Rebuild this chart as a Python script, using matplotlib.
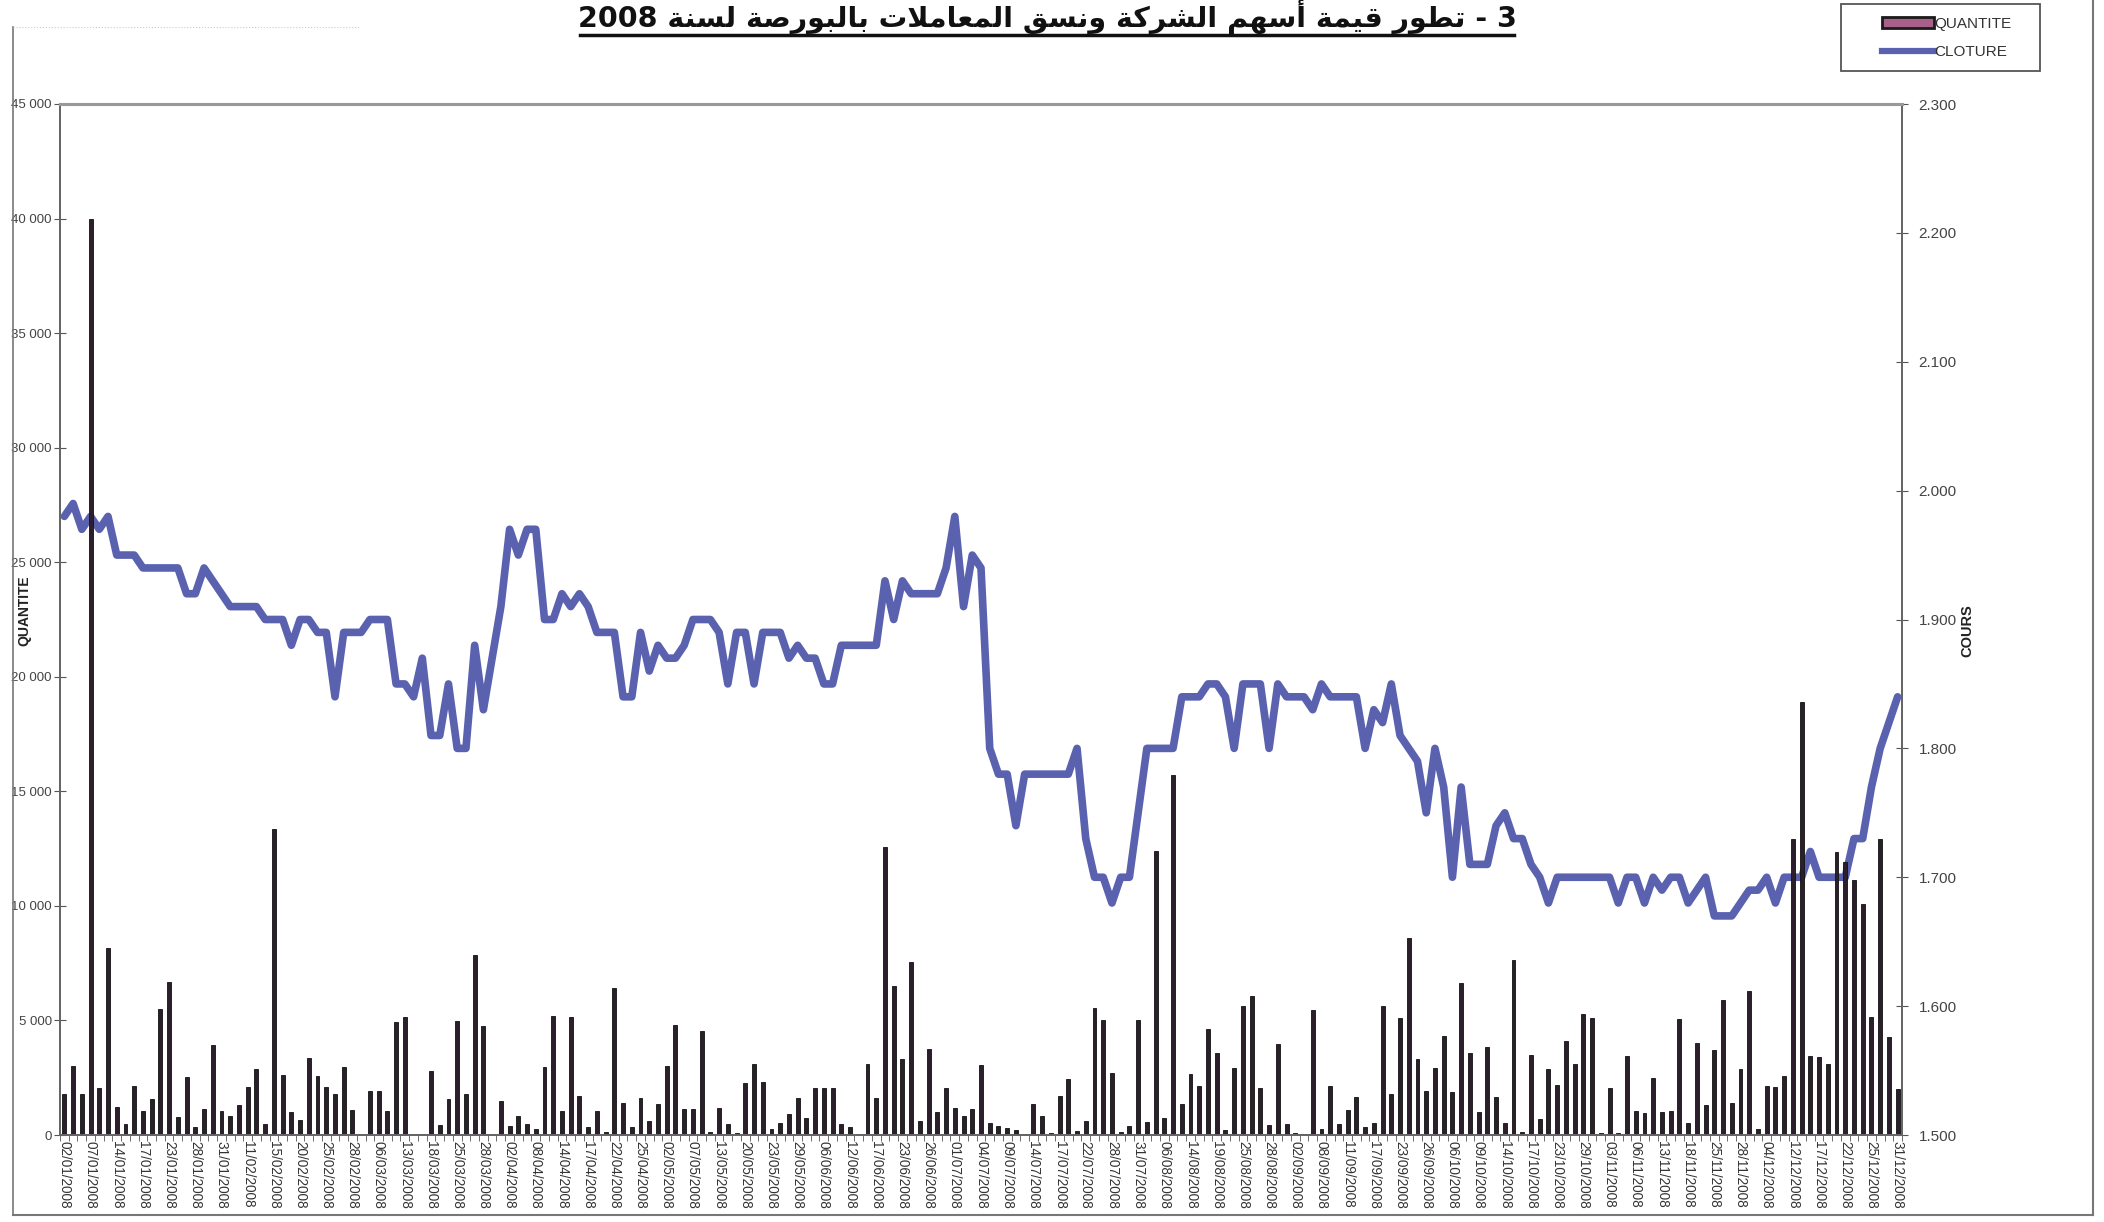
import matplotlib.pyplot as plt
from matplotlib.lines import Line2D
from matplotlib.patches import Patch, Rectangle
import numpy as np

plt.rcParams['font.family'] = ['Liberation Sans', 'DejaVu Sans']

title_ar = '3 - تطور قيمة أسهم الشركة ونسق المعاملات بالبورصة لسنة 2008'

date_labels = ['02/01/2008', '07/01/2008', '14/01/2008', '17/01/2008', '23/01/2008', '28/01/2008',
               '31/01/2008', '11/02/2008', '15/02/2008', '20/02/2008', '25/02/2008', '28/02/2008',
               '06/03/2008', '13/03/2008', '18/03/2008', '25/03/2008', '28/03/2008', '02/04/2008',
               '08/04/2008', '14/04/2008', '17/04/2008', '22/04/2008', '25/04/2008', '02/05/2008',
               '07/05/2008', '13/05/2008', '20/05/2008', '23/05/2008', '29/05/2008', '06/06/2008',
               '12/06/2008', '17/06/2008', '23/06/2008', '26/06/2008', '01/07/2008', '04/07/2008',
               '09/07/2008', '14/07/2008', '17/07/2008', '22/07/2008', '28/07/2008', '31/07/2008',
               '06/08/2008', '14/08/2008', '19/08/2008', '25/08/2008', '28/08/2008', '02/09/2008',
               '08/09/2008', '11/09/2008', '17/09/2008', '23/09/2008', '26/09/2008', '06/10/2008',
               '09/10/2008', '14/10/2008', '17/10/2008', '23/10/2008', '29/10/2008', '03/11/2008',
               '06/11/2008', '13/11/2008', '18/11/2008', '25/11/2008', '28/11/2008', '04/12/2008',
               '12/12/2008', '17/12/2008', '22/12/2008', '25/12/2008', '31/12/2008']

# volume traded per session (QUANTITE)
quantite = [1810, 3020, 1770, 40000, 2050, 8150, 1210, 470, 2150, 1060,
            1550, 5500, 6680, 780, 2520, 340, 1120, 3920, 1030, 840,
            1310, 2090, 2890, 470, 13340, 2610, 990, 650, 3340, 2560,
            2110, 1770, 2950, 1080, 50, 1900, 1920, 1030, 4950, 5150,
            60, 30, 2800, 450, 1570, 4980, 1770, 7840, 4760, 20,
            1490, 410, 840, 470, 280, 2950, 5190, 1050, 5130, 1720,
            350, 1060, 130, 6420, 1400, 340, 1600, 620, 1360, 2990,
            4810, 1140, 1140, 4530, 130, 1180, 470, 90, 2280, 3120,
            2300, 260, 540, 900, 1600, 750, 2050, 2050, 2050, 470,
            340, 60, 3120, 1620, 12560, 6490, 3320, 7560, 600, 3770,
            1010, 2070, 1180, 820, 1140, 3040, 520, 390, 300, 240,
            60, 1340, 820, 90, 1720, 2430, 190, 620, 5540, 5020,
            2720, 110, 390, 5020, 560, 12410, 750, 15710, 1360, 2650,
            2150, 4630, 3560, 240, 2910, 5650, 6050, 2030, 430, 3990,
            500, 90, 60, 5450, 260, 2130, 490, 1080, 1680, 370,
            520, 5650, 1770, 5090, 8580, 3320, 1940, 2910, 4300, 1870,
            6620, 3560, 990, 3830, 1660, 520, 7630, 150, 3470, 690,
            2890, 2180, 4100, 3080, 5280, 5090, 100, 2070, 80, 3430,
            1060, 970, 2500, 1010, 1030, 5060, 520, 4030, 1320, 3690,
            5900, 1400, 2890, 6290, 280, 2150, 2110, 2580, 12900, 18880,
            3430, 3400, 3080, 12370, 11900, 11120, 10100, 5130, 12910, 4270,
            2010]

# closing price (CLOTURE)
cloture = [1.98, 1.99, 1.97, 1.98, 1.97, 1.98, 1.95, 1.95, 1.95, 1.94,
           1.94, 1.94, 1.94, 1.94, 1.92, 1.92, 1.94, 1.93, 1.92, 1.91,
           1.91, 1.91, 1.91, 1.90, 1.90, 1.90, 1.88, 1.90, 1.90, 1.89,
           1.89, 1.84, 1.89, 1.89, 1.89, 1.90, 1.90, 1.90, 1.85, 1.85,
           1.84, 1.87, 1.81, 1.81, 1.85, 1.80, 1.80, 1.88, 1.83, 1.87,
           1.91, 1.97, 1.95, 1.97, 1.97, 1.90, 1.90, 1.92, 1.91, 1.92,
           1.91, 1.89, 1.89, 1.89, 1.84, 1.84, 1.89, 1.86, 1.88, 1.87,
           1.87, 1.88, 1.90, 1.90, 1.90, 1.89, 1.85, 1.89, 1.89, 1.85,
           1.89, 1.89, 1.89, 1.87, 1.88, 1.87, 1.87, 1.85, 1.85, 1.88,
           1.88, 1.88, 1.88, 1.88, 1.93, 1.90, 1.93, 1.92, 1.92, 1.92,
           1.92, 1.94, 1.98, 1.91, 1.95, 1.94, 1.80, 1.78, 1.78, 1.74,
           1.78, 1.78, 1.78, 1.78, 1.78, 1.78, 1.80, 1.73, 1.70, 1.70,
           1.68, 1.70, 1.70, 1.75, 1.80, 1.80, 1.80, 1.80, 1.84, 1.84,
           1.84, 1.85, 1.85, 1.84, 1.80, 1.85, 1.85, 1.85, 1.80, 1.85,
           1.84, 1.84, 1.84, 1.83, 1.85, 1.84, 1.84, 1.84, 1.84, 1.80,
           1.83, 1.82, 1.85, 1.81, 1.80, 1.79, 1.75, 1.80, 1.77, 1.70,
           1.77, 1.71, 1.71, 1.71, 1.74, 1.75, 1.73, 1.73, 1.71, 1.70,
           1.68, 1.70, 1.70, 1.70, 1.70, 1.70, 1.70, 1.70, 1.68, 1.70,
           1.70, 1.68, 1.70, 1.69, 1.70, 1.70, 1.68, 1.69, 1.70, 1.67,
           1.67, 1.67, 1.68, 1.69, 1.69, 1.70, 1.68, 1.70, 1.70, 1.70,
           1.72, 1.70, 1.70, 1.70, 1.70, 1.73, 1.73, 1.77, 1.80, 1.82,
           1.84]

# arabic shaping by hand (matplotlib has no bidi / joining)
FORMS = {'ا': (0xFE8D, 0xFE8E), 'أ': (0xFE83, 0xFE84), 'ة': (0xFE93, 0xFE94),
         'ر': (0xFEAD, 0xFEAE), 'و': (0xFEED, 0xFEEE),
         'ب': (0xFE8F, 0xFE90, 0xFE91, 0xFE92), 'ت': (0xFE95, 0xFE96, 0xFE97, 0xFE98),
         'س': (0xFEB1, 0xFEB2, 0xFEB3, 0xFEB4), 'ش': (0xFEB5, 0xFEB6, 0xFEB7, 0xFEB8),
         'ص': (0xFEB9, 0xFEBA, 0xFEBB, 0xFEBC), 'ط': (0xFEC1, 0xFEC2, 0xFEC3, 0xFEC4),
         'ع': (0xFEC9, 0xFECA, 0xFECB, 0xFECC), 'ق': (0xFED5, 0xFED6, 0xFED7, 0xFED8),
         'ك': (0xFED9, 0xFEDA, 0xFEDB, 0xFEDC), 'ل': (0xFEDD, 0xFEDE, 0xFEDF, 0xFEE0),
         'م': (0xFEE1, 0xFEE2, 0xFEE3, 0xFEE4), 'ن': (0xFEE5, 0xFEE6, 0xFEE7, 0xFEE8),
         'ه': (0xFEE9, 0xFEEA, 0xFEEB, 0xFEEC), 'ي': (0xFEF1, 0xFEF2, 0xFEF3, 0xFEF4)}
LAM_ALEF = {'ا': (0xFEFB, 0xFEFC), 'أ': (0xFEF7, 0xFEF8)}


def shape_word(w):
    out = []
    k = 0
    prev = False
    while k < len(w):
        c = w[k]
        if c == 'ل' and k + 1 < len(w) and w[k + 1] in LAM_ALEF:
            iso, fin = LAM_ALEF[w[k + 1]]
            out.append(chr(fin if prev else iso))
            prev = False
            k += 2
            continue
        f = FORMS[c]
        nxt = k + 1 < len(w) and len(f) == 4
        if prev and nxt:
            g = f[3]
        elif prev:
            g = f[1]
        elif nxt:
            g = f[2]
        else:
            g = f[0]
        out.append(chr(g))
        prev = nxt
        k += 1
    return ''.join(reversed(out))


def rtl(text):
    words = [shape_word(w) if w[0] in FORMS else w for w in text.split(' ')]
    return ' '.join(reversed(words))


W, H = 2104, 1222
fig = plt.figure(figsize=(W / 100, H / 100), dpi=100)
ax = fig.add_axes([60 / W, 87 / H, 1842 / W, 1031 / H])
ax2 = ax.twinx()

x = np.arange(len(quantite))
bar_col = '#2a1f2a'
line_col = '#5a62b0'

ax.bar(x, quantite, width=0.45, color=bar_col, edgecolor='#111111', linewidth=0.6)
ax2.plot(x, cloture, color=line_col, lw=5.5, solid_joinstyle='round', solid_capstyle='round')

# bars sit on top of the line like in the source
ax.set_zorder(ax2.get_zorder() + 1)
ax.patch.set_visible(False)

ax.set_xlim(-0.5, len(x) - 0.5)
ax.set_ylim(0, 45000)
ax2.set_ylim(1.5, 2.3)

yt = np.arange(0, 45001, 5000)
ax.set_yticks(yt)
ax.set_yticklabels(['0' if v == 0 else f'{v // 1000} 000' for v in yt], fontsize=9.5, color='#444444')
yt2 = np.round(np.arange(1.5, 2.301, 0.1), 1)
ax2.set_yticks(yt2)
ax2.set_yticklabels([f'{v:.3f}' for v in yt2], fontsize=11, color='#444444')

ax.set_xticks(x[::3])
ax.set_xticklabels(date_labels, rotation=-90, fontsize=9.8, color='#333333')
ax.set_xticks(np.arange(-0.5, len(x), 1), minor=True)
ax.tick_params(axis='x', which='major', length=0, pad=4)
ax.tick_params(axis='x', which='minor', length=4, color='#555555', direction='out')
ax.tick_params(axis='y', length=8, direction='inout', color='#555555', pad=2)
ax2.tick_params(axis='y', length=8, direction='inout', color='#555555', pad=8)

for a in (ax, ax2):
    for s in a.spines.values():
        s.set_color('#666666')
        s.set_linewidth(1.4)
    a.spines['top'].set_color('#999999')
    a.spines['top'].set_linewidth(2.2)

fig.text(24 / W, 1 - 611 / H, 'QUANTITE', rotation=90, ha='center', va='center',
         fontsize=10, fontweight='bold', color='#222222')
fig.text(1967 / W, 1 - 631 / H, 'COURS', rotation=90, ha='center', va='center',
         fontsize=10.5, fontweight='bold', color='#222222')

# title at the top of the page, underlined
fig.text(1047 / W, 1 - 27 / H, rtl(title_ar), ha='center', va='baseline',
         fontsize=20.5, fontweight='bold', family=['DejaVu Sans'], color='#111111')
fig.add_artist(Line2D([580 / W, 1514 / W], [1 - 35 / H, 1 - 35 / H], color='#111111', lw=2.5))

# outer frame
fc = '#777777'
fig.add_artist(Line2D([13 / W, 13 / W], [1 - 1215 / H, 1 - 27 / H], color=fc, lw=1.2))
fig.add_artist(Line2D([13 / W, 2093 / W], [1 - 1215 / H, 1 - 1215 / H], color=fc, lw=1.5))
fig.add_artist(Line2D([2093 / W, 2093 / W], [1 - 1215 / H, 1.0], color=fc, lw=1.5))
fig.add_artist(Line2D([13 / W, 360 / W], [1 - 27 / H, 1 - 27 / H], color='#cccccc', lw=0.8, ls=':'))

# legend: frame drawn separately, wide side padding like the source
fig.add_artist(Rectangle((1841 / W, 1 - 71 / H), 199 / W, 67 / H, transform=fig.transFigure,
                         facecolor='white', edgecolor='#555555', lw=1.3, zorder=5))
handles = [Patch(facecolor='#a8608a', edgecolor='#1a1a1a', linewidth=2),
           Line2D([], [], color=line_col, lw=4.5)]
leg = fig.legend(handles, ['QUANTITE', 'CLOTURE'], loc='center left',
                 bbox_to_anchor=(1874 / W, 1 - 38 / H), frameon=False, fontsize=11,
                 handlelength=3.4, handleheight=0.8, handletextpad=0.05,
                 labelspacing=0.95, borderpad=0)
leg.set_zorder(6)
for t in leg.get_texts():
    t.set_color('#333333')

fig.savefig('out.png', dpi=100)
